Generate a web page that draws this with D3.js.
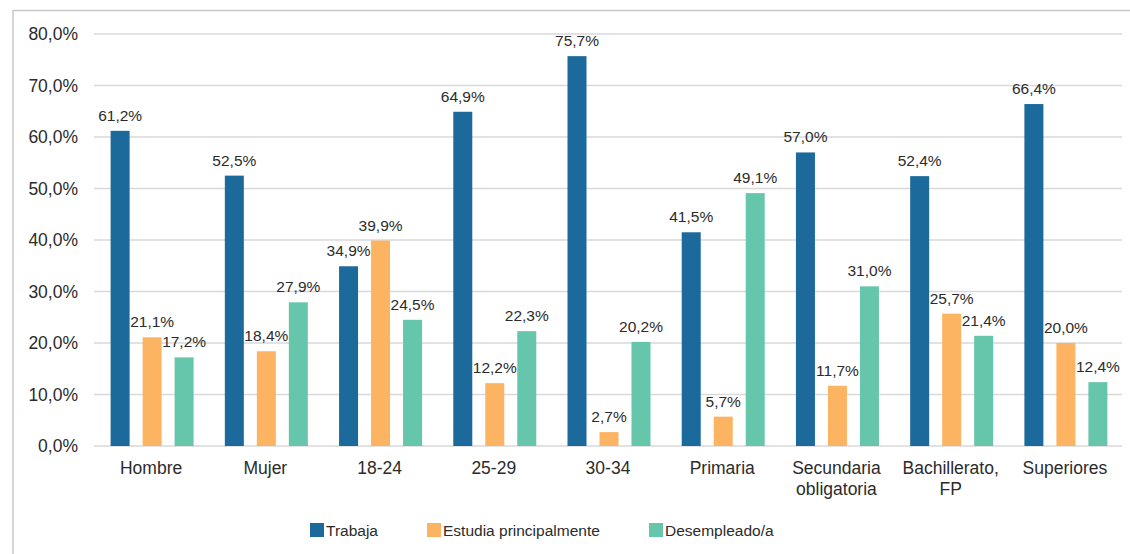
<!DOCTYPE html>
<html><head><meta charset="utf-8">
<script src="https://cdn.jsdelivr.net/npm/d3@7/dist/d3.min.js"></script>
<style>body{margin:0;background:#fff}svg{display:block;font-family:"Liberation Sans",Arial,Helvetica,sans-serif}</style>
</head><body><svg id="c" width="1130" height="554"></svg>
<script>
const categories = ["Hombre","Mujer","18-24","25-29","30-34","Primaria","Secundaria obligatoria","Bachillerato, FP","Superiores"];
const categoryLines = [["Hombre"],["Mujer"],["18-24"],["25-29"],["30-34"],["Primaria"],["Secundaria","obligatoria"],["Bachillerato,","FP"],["Superiores"]];
const seriesNames = ["Trabaja","Estudia principalmente","Desempleado/a"];
const trabaja = [61.2,52.5,34.9,64.9,75.7,41.5,57.0,52.4,66.4];
const estudia = [21.1,18.4,39.9,12.2,2.7,5.7,11.7,25.7,20.0];
const desempleado = [17.2,27.9,24.5,22.3,20.2,49.1,31.0,21.4,12.4];
const yTicks = [0,10,20,30,40,50,60,70,80];
const colors = ["#1b6a9b","#fdb462","#66c6ab"];

const series = [trabaja, estudia, desempleado];
const svg = d3.select("#c");
const fmt = v => d3.format(".1f")(v).replace(".", ",") + "%";

const x0 = d3.scaleBand().domain(categories).range([94, 1122]).padding(0);
const x1 = d3.scaleBand().domain(seriesNames).range([-40.5, 42.5]).paddingInner(13/32).paddingOuter(0);
const y = d3.scaleLinear().domain([0, 80]).range([446, 34]);

// frame
svg.append("path").attr("d","M13,554V10.5H1130").attr("fill","none").attr("stroke","#c8c8c8").attr("stroke-width",1.5);

// gridlines
svg.append("g").selectAll("line").data(yTicks).join("line")
  .attr("x1",94).attr("x2",1122).attr("y1",d=>y(d)).attr("y2",d=>y(d))
  .attr("stroke","#d9d9d9").attr("stroke-width",1.5);

// y axis labels
const yAxis = d3.axisLeft(y).tickValues(yTicks).tickFormat(d=>fmt(d)).tickSize(0).tickPadding(16);
const ya = svg.append("g").attr("transform","translate(94,0)").call(yAxis);
ya.select(".domain").remove();
ya.selectAll("text").attr("font-size",17.5).attr("fill","#2b2b2b").attr("font-family","'Liberation Sans',Arial,sans-serif");

// bars
const groups = svg.append("g").selectAll("g").data(categories).join("g")
  .attr("transform", d => `translate(${x0(d)+x0.bandwidth()/2},0)`);
groups.selectAll("rect").data((c,i)=>seriesNames.map((s,j)=>({s, v:series[j][i], j}))).join("rect")
  .attr("x", d=>x1(d.s)).attr("width", x1.bandwidth())
  .attr("y", d=>y(d.v)).attr("height", d=>y(0)-y(d.v))
  .attr("fill", d=>colors[d.j]);
groups.selectAll("text").data((c,i)=>seriesNames.map((s,j)=>({s, v:series[j][i], j}))).join("text")
  .attr("x", d=>x1(d.s)+x1.bandwidth()/2).attr("y", d=>y(d.v)-10)
  .attr("text-anchor","middle").attr("font-size",15.5).attr("fill","#2b2b2b")
  .text(d=>fmt(d.v));

// x labels
const xl = svg.append("g").selectAll("text").data(categories).join("text")
  .attr("x", d=>x0(d)+x0.bandwidth()/2).attr("y", 474)
  .attr("text-anchor","middle").attr("font-size",17.5).attr("fill","#2b2b2b");
xl.selectAll("tspan").data((d,i)=>categoryLines[i]).join("tspan")
  .attr("x", function(){return this.parentNode.getAttribute("x");})
  .attr("dy",(d,i)=>i===0?0:21).text(d=>d);

// legend
const legX = [310, 427, 649];
const lg = svg.append("g").selectAll("g").data(seriesNames).join("g")
  .attr("transform",(d,i)=>`translate(${legX[i]},523)`);
lg.append("rect").attr("width",14).attr("height",14).attr("fill",(d,i)=>colors[i]);
lg.append("text").attr("x",16).attr("y",12.5).attr("font-size",15.5).attr("fill","#2b2b2b").text(d=>d);
</script></body></html>
